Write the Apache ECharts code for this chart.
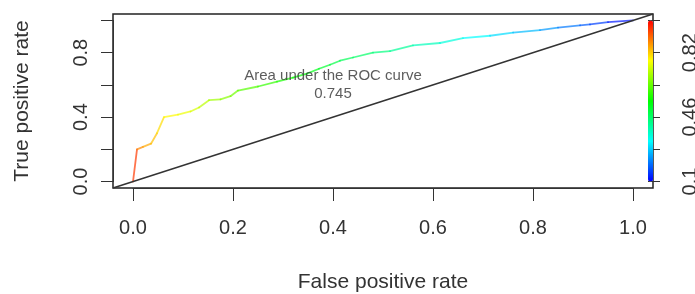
<!DOCTYPE html>
<html>
<head>
<meta charset="utf-8">
<script src="https://cdn.jsdelivr.net/npm/echarts@6/dist/echarts.min.js"></script>
<style>html,body{margin:0;padding:0;background:#fff}#c{width:695px;height:294px}</style>
</head>
<body>
<div id="c"></div>
<script>
// ROC curve points (false positive rate, true positive rate) and cutoff colouring
const fpr    = [0, 0.008, 0.02, 0.036, 0.048, 0.062, 0.09, 0.115, 0.132, 0.152, 0.175, 0.195, 0.21, 0.25, 0.288, 0.32, 0.348, 0.372, 0.394, 0.414, 0.44, 0.48, 0.514, 0.56, 0.614, 0.66, 0.714, 0.76, 0.814, 0.85, 0.894, 0.914, 0.95, 1.0];
const tpr    = [0, 0.20, 0.215, 0.235, 0.30, 0.40, 0.415, 0.435, 0.46, 0.505, 0.51, 0.53, 0.565, 0.59, 0.62, 0.645, 0.67, 0.70, 0.725, 0.75, 0.77, 0.80, 0.81, 0.845, 0.86, 0.89, 0.905, 0.925, 0.94, 0.955, 0.97, 0.975, 0.99, 1.0];
const cutoff = [1.0, 0.90, 0.86, 0.84, 0.82, 0.79, 0.77, 0.75, 0.73, 0.70, 0.68, 0.66, 0.64, 0.61, 0.58, 0.56, 0.54, 0.52, 0.50, 0.48, 0.47, 0.45, 0.43, 0.40, 0.37, 0.34, 0.31, 0.28, 0.25, 0.22, 0.19, 0.17, 0.14, 0.10];
// chance diagonal (abline 0,1) across the whole plotting box
const chanceX = [-0.04, 1.04];
const chanceY = [-0.04, 1.04];
// annotation
const aucValue = 0.745;
const aucLabel = 'Area under the ROC curve';
const aucPos = [0.4, 0.6];
// colour scale range of the cutoff
const cutMin = 0.1, cutMax = 1.0, cutStep = 0.18;
const xTitle = 'False positive rate';
const yTitle = 'True positive rate';

const segs = [];
for (let i = 0; i < fpr.length - 1; i++) {
  segs.push([fpr[i], tpr[i], fpr[i + 1], tpr[i + 1], (cutoff[i] + cutoff[i + 1]) / 2]);
}
const diag = chanceX.map((x, i) => [x, chanceY[i]]);

const FONT = 'Liberation Sans';
const TXT = '#333';
const boxL = 113, boxT = 14, boxW = 540, boxH = 174;
const lo = -0.04, hi = 1.04;
const pxX = v => boxL + (v - lo) / (hi - lo) * boxW;
const pxY = v => boxT + (hi - v) / (hi - lo) * boxH;
const G = {outerBoundsMode: 'none', containLabel: false};

const chart = echarts.init(document.getElementById('c'), null, {renderer: 'canvas'});
chart.setOption({
  animation: false,
  backgroundColor: '#fff',
  grid: [
    Object.assign({left: boxL, top: boxT, width: boxW, height: boxH, show: true, borderColor: '#222', borderWidth: 1.5, backgroundColor: 'transparent'}, G),
    Object.assign({left: pxX(0), top: boxT, width: pxX(1) - pxX(0), height: boxH}, G),
    Object.assign({left: boxL, top: pxY(1), width: boxW, height: pxY(0) - pxY(1)}, G),
    Object.assign({left: boxL + boxW - 5, top: pxY(1), width: 5, height: pxY(0) - pxY(1)}, G)
  ],
  xAxis: [
    {gridIndex: 0, type: 'value', min: lo, max: hi, show: false},
    {gridIndex: 1, type: 'value', min: 0, max: 1, interval: 0.2,
     axisLine: {show: true, onZero: false, lineStyle: {color: TXT, width: 1}},
     axisTick: {show: true, length: 13, lineStyle: {color: TXT}},
     splitLine: {show: false},
     axisLabel: {margin: 30, fontFamily: FONT, fontSize: 20, color: TXT, formatter: v => v.toFixed(1)},
     name: xTitle, nameLocation: 'middle', nameGap: 84,
     nameTextStyle: {fontFamily: FONT, fontSize: 21, color: TXT}},
    {gridIndex: 2, type: 'value', min: 0, max: 1, show: false},
    {gridIndex: 3, type: 'value', min: 0, max: 1, show: false}
  ],
  yAxis: [
    {gridIndex: 0, type: 'value', min: lo, max: hi, show: false},
    {gridIndex: 1, type: 'value', min: 0, max: 1, show: false},
    {gridIndex: 2, type: 'value', min: 0, max: 1, interval: 0.2,
     axisLine: {show: true, onZero: false, lineStyle: {color: TXT, width: 1}},
     axisTick: {show: true, length: 12, lineStyle: {color: TXT}},
     splitLine: {show: false},
     axisLabel: {margin: 22, rotate: 90, fontFamily: FONT, fontSize: 20, color: TXT,
       formatter: (v, i) => (i % 2 === 0 ? v.toFixed(1) : '')},
     name: yTitle, nameLocation: 'middle', nameGap: 80, nameRotate: 90,
     nameTextStyle: {fontFamily: FONT, fontSize: 21, color: TXT}},
    {gridIndex: 3, type: 'value', position: 'right', min: cutMin, max: cutMax, interval: cutStep,
     axisLine: {show: false},
     axisTick: {show: true, length: 12, lineStyle: {color: TXT}},
     splitLine: {show: false},
     axisLabel: {margin: 27, rotate: 90, fontFamily: FONT, fontSize: 20, color: TXT,
       formatter: (v, i) => (i % 2 === 0 ? String(+v.toFixed(2)) : '')}}
  ],
  visualMap: [{
    type: 'continuous', seriesIndex: 1, dimension: 4,
    min: cutMin, max: cutMax, calculable: false, hoverLink: false,
    left: boxL + boxW - 5, top: pxY(1), itemWidth: 5, itemHeight: pxY(0) - pxY(1),
    padding: 0, text: null,
    inRange: {color: ['#0000ff', '#00ffff', '#00ff00', '#ffff00', '#ff0000']}
  }],
  series: [
    {type: 'line', xAxisIndex: 0, yAxisIndex: 0, data: diag, symbol: 'none',
     lineStyle: {color: '#333', width: 1.5}, silent: true},
    {type: 'custom', xAxisIndex: 0, yAxisIndex: 0, data: segs,
     encode: {x: [0, 2], y: [1, 3]},
     renderItem: function (params, api) {
       const p1 = api.coord([api.value(0), api.value(1)]);
       const p2 = api.coord([api.value(2), api.value(3)]);
       return {type: 'line', shape: {x1: p1[0], y1: p1[1], x2: p2[0], y2: p2[1]},
               style: {stroke: api.visual('color'), lineWidth: 1.8, lineCap: 'round', opacity: 0.7}};
     }},
    {type: 'scatter', xAxisIndex: 0, yAxisIndex: 0, data: [aucPos], symbolSize: 1,
     itemStyle: {color: 'rgba(0,0,0,0)'}, silent: true,
     label: {show: true, position: 'inside', formatter: aucLabel + '\n' + aucValue,
             fontFamily: FONT, fontSize: 15, lineHeight: 18, color: TXT, align: 'center'}}
  ]
});
</script>
</body>
</html>
